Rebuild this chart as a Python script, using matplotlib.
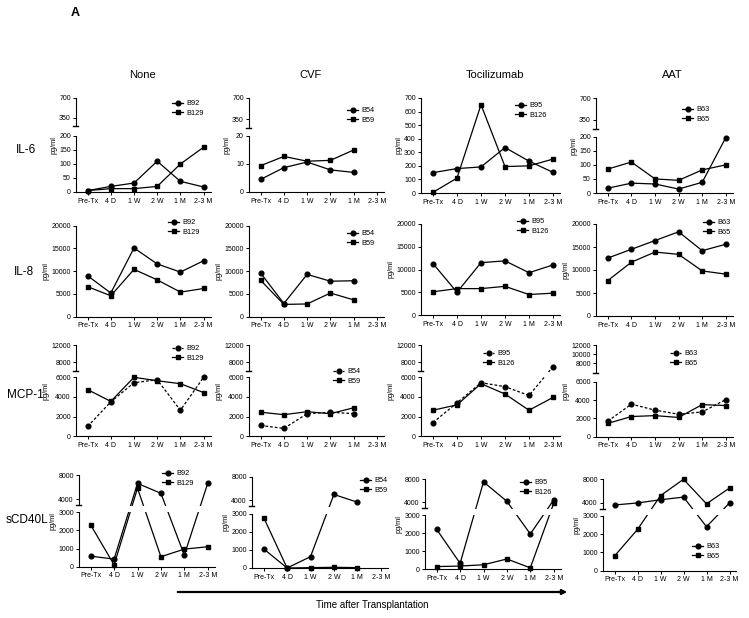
import numpy as np
import matplotlib
matplotlib.use('Agg')
import matplotlib.pyplot as plt
from matplotlib.patches import Rectangle, FancyArrowPatch
from matplotlib.lines import Line2D

plt.rcParams['font.family'] = ['Liberation Sans', 'DejaVu Sans']

nan = np.nan
# ---------------- data ----------------
timepoints = ['Pre-Tx', '4 D', '1 W', '2 W', '1 M', '2-3 M']
treatments = ['None', 'CVF', 'Tocilizumab', 'AAT']
cytokines = ['IL-6', 'IL-8', 'MCP-1', 'sCD40L']
donor_circle = ['B92', 'B54', 'B95', 'B63']
donor_square = ['B129', 'B59', 'B126', 'B65']

il6_none_b92 = [5, 20, 32, 110, 38, 18]
il6_none_b129 = [5, 12, 12, 20, 100, 160]
il6_cvf_b54 = [4.5, 8.7, 10.7, 7.9, 7.0, nan]
il6_cvf_b59 = [9.4, 12.7, 11.0, 11.3, 15.0, nan]
il6_toci_b95 = [150, 180, 192, 335, 235, 152]
il6_toci_b126 = [5, 110, 650, 195, 200, 250]
il6_aat_b63 = [17, 35, 32, 14, 38, 197]
il6_aat_b65 = [85, 110, 50, 45, 82, 100]

il8_none_b92 = [9000, 5200, 15100, 11600, 9800, 12300]
il8_none_b129 = [6600, 4600, 10400, 8100, 5400, 6200]
il8_cvf_b54 = [9600, 2900, 9300, 7800, 7900, nan]
il8_cvf_b59 = [8000, 2700, 2800, 5200, 3700, nan]
il8_toci_b95 = [11300, 5000, 11500, 11900, 9300, 11000]
il8_toci_b126 = [5100, 5800, 5800, 6300, 4500, 4800]
il8_aat_b63 = [12600, 14500, 16400, 18300, 14200, 15600]
il8_aat_b65 = [7700, 11700, 13900, 13400, 9800, 9100]

mcp1_none_b92 = [1000, 3500, 5450, 5750, 2650, 6000]
mcp1_none_b129 = [4750, 3550, 6000, 5650, 5350, 4450]
mcp1_cvf_b54 = [1100, 800, 2300, 2450, 2300, nan]
mcp1_cvf_b59 = [2450, 2200, 2500, 2300, 2900, nan]
mcp1_toci_b95 = [1400, 3400, 5450, 5050, 4150, 7000]
mcp1_toci_b126 = [2650, 3200, 5350, 4300, 2650, 3950]
mcp1_aat_b63 = [1700, 3550, 2900, 2450, 2700, 4050]
mcp1_aat_b65 = [1450, 2200, 2300, 2100, 3500, 3400]

scd40l_none_b92 = [580, 420, 6600, 4950, 640, 6600]
scd40l_none_b129 = [2300, 100, 5800, 550, 970, 1100]
scd40l_cvf_b54 = [1060, 0, 630, 4970, 3650, nan]
scd40l_cvf_b59 = [2800, 0, 20, 40, 20, nan]
scd40l_toci_b95 = [2200, 330, 7500, 4150, 1950, 4400]
scd40l_toci_b126 = [150, 180, 250, 570, 80, 3800]
scd40l_aat_b63 = [3600, 3950, 4500, 4950, 2400, 3950]
scd40l_aat_b65 = [800, 2250, 5200, 8000, 3800, 6500]

series = {
    'IL-6': [(il6_none_b92, il6_none_b129), (il6_cvf_b54, il6_cvf_b59),
             (il6_toci_b95, il6_toci_b126), (il6_aat_b63, il6_aat_b65)],
    'IL-8': [(il8_none_b92, il8_none_b129), (il8_cvf_b54, il8_cvf_b59),
             (il8_toci_b95, il8_toci_b126), (il8_aat_b63, il8_aat_b65)],
    'MCP-1': [(mcp1_none_b92, mcp1_none_b129), (mcp1_cvf_b54, mcp1_cvf_b59),
              (mcp1_toci_b95, mcp1_toci_b126), (mcp1_aat_b63, mcp1_aat_b65)],
    'sCD40L': [(scd40l_none_b92, scd40l_none_b129), (scd40l_cvf_b54, scd40l_cvf_b59),
               (scd40l_toci_b95, scd40l_toci_b126), (scd40l_aat_b63, scd40l_aat_b65)],
}

# ---------------- layout (pixels) ----------------
W, H = 749, 618
fig = plt.figure(figsize=(W / 100, H / 100), dpi=100)

# y "knots": (value, pixel-y) pairs defining (broken) axes
knots = {
    'IL-6': [[(0, 192), (200, 136), (200, 126), (700, 98)],
             [(0, 192), (20, 136), (200, 128), (700, 98)],
             [(0, 193), (700, 98)],
             [(0, 193), (200, 136.7), (200, 129), (700, 98.3)]],
    'IL-8': [[(0, 316.7), (20000, 225.7)], [(0, 316.7), (20000, 225.7)],
             [(0, 315), (20000, 224)], [(0, 316), (20000, 224)]],
    'MCP-1': [[(0, 436.3), (6000, 377.3), (6000, 371), (12000, 345)]] * 3 +
             [[(0, 436.7), (6000, 381.7), (6000, 372.5), (12000, 345)]],
    'sCD40L': [[(0, 566.7), (3000, 512.3), (3000, 505), (8000, 475)],
               [(0, 568), (3000, 514), (3000, 506), (8000, 476.7)],
               [(0, 569.3), (3000, 515), (3000, 508), (8000, 479)],
               [(0, 570.7), (3000, 515.7), (3000, 508.5), (8000, 479.3)]],
}
yticks = {
    'IL-6': [[0, 50, 100, 150, 200, 350, 700], [0, 10, 20, 350, 700],
             [0, 100, 200, 300, 400, 500, 600, 700], [0, 50, 100, 150, 200, 350, 700]],
    'IL-8': [[0, 5000, 10000, 15000, 20000]] * 4,
    'MCP-1': [[0, 2000, 4000, 6000, 8000, 12000]] * 3 + [[0, 2000, 4000, 6000, 8000, 10000, 12000]],
    'sCD40L': [[0, 1000, 2000, 3000, 4000, 8000]] * 4,
}
xlayout = {r: [(76, 23.2), (249, 23.25), (421, 24), (596, 23.6)] for r in ['IL-6', 'IL-8', 'MCP-1']}
xlayout['sCD40L'] = [(79, 23.4), (252, 23.4), (425, 23.4), (603, 23.0)]

legend_pos = {
    'IL-6': [(172, 103), (347, 110), (515, 105), (682, 109)],
    'IL-8': [(168, 222), (347, 233), (517, 221), (703, 222)],
    'MCP-1': [(172, 348), (333, 371), (483, 353), (670, 353)],
    'sCD40L': [(162, 473), (360, 480), (520, 482), (692, 546)],
}
row_label_pos = {'IL-6': (16, 150), 'IL-8': (14, 272), 'MCP-1': (7, 395), 'sCD40L': (6, 520)}
col_title_pos = [(143, 75), (310, 75), (495, 75), (672, 75)]

XMIN, XMAX = -0.5, 5.3
LW = 0.9
TICKFS = 5.0


def interp_ext(x, xp, fp):
    x = np.asarray(x, float)
    y = np.interp(x, xp, fp)
    lo_s = (fp[1] - fp[0]) / (xp[1] - xp[0])
    hi_s = (fp[-1] - fp[-2]) / (xp[-1] - xp[-2])
    y = np.where(x < xp[0], fp[0] + (x - xp[0]) * lo_s, y)
    y = np.where(x > xp[-1], fp[-1] + (x - xp[-1]) * hi_s, y)
    return y


def fig_xy(x, y):
    return x / W, 1 - y / H


for ri, cyt in enumerate(cytokines):
    for ci, trt in enumerate(treatments):
        kn = knots[cyt][ci]
        vals = [k[0] for k in kn]
        pys = [k[1] for k in kn]
        for i in range(1, len(vals)):
            if vals[i] <= vals[i - 1]:
                vals[i] = vals[i - 1] * (1 + 1e-6) + 1e-9
        y0, ytop = pys[0], pys[-1]
        hs = [y0 - p for p in pys]
        Ht = y0 - ytop
        left, sp = xlayout[cyt][ci]
        width = (XMAX - XMIN) * sp
        ax = fig.add_axes([left / W, 1 - y0 / H, width / W, Ht / H])
        ax.set_facecolor('none')
        fwd = (lambda v, vals=vals, hs=hs: interp_ext(v, vals, hs))
        inv = (lambda h, vals=vals, hs=hs: interp_ext(h, hs, vals))
        ax.set_yscale('function', functions=(fwd, inv))
        ax.set_xlim(XMIN, XMAX)
        ax.set_ylim(0, vals[-1])

        xs = np.arange(len(timepoints))
        circ, sq = series[cyt][ci]
        ls_c = (0, (2.2, 1.6)) if cyt == 'MCP-1' else '-'
        # lines
        ax.plot(xs, circ, color='k', lw=LW, ls=ls_c, zorder=2, clip_on=False)
        ax.plot(xs, sq, color='k', lw=LW, ls='-', zorder=2, clip_on=False)
        # markers on top
        ax.plot(xs, circ, 'o', color='k', ms=3.4, zorder=2.4, clip_on=False)
        ax.plot(xs, sq, 's', color='k', ms=3.2, zorder=2.4, clip_on=False)

        # spines
        for s in ['top', 'right', 'left']:
            ax.spines[s].set_visible(False)
        ax.spines['bottom'].set_linewidth(0.8)
        broken = len(kn) == 4
        if broken:
            hb, hg = hs[1], hs[2]
            ax.add_patch(Rectangle((0, (hb + 0.5) / Ht), 1, (hg - hb - 1.0) / Ht,
                                   transform=ax.transAxes, facecolor='white',
                                   edgecolor='none', zorder=2.2))
            ax.plot([0, 0], [0, hb / Ht], color='k', lw=0.8, transform=ax.transAxes,
                    clip_on=False, zorder=3)
            ax.plot([0, 0], [hg / Ht, 1], color='k', lw=0.8, transform=ax.transAxes,
                    clip_on=False, zorder=3)
            ax.plot([-3.0 / width, 2.0 / width], [hg / Ht, hg / Ht], color='k', lw=1.0,
                    transform=ax.transAxes, clip_on=False, zorder=3)
        else:
            ax.plot([0, 0], [0, 1], color='k', lw=0.8, transform=ax.transAxes,
                    clip_on=False, zorder=3)

        yt = yticks[cyt][ci]
        ax.set_yticks(yt)
        ax.set_yticklabels([str(v) for v in yt])
        ax.set_xticks(xs)
        ax.set_xticklabels(timepoints)
        ax.tick_params(axis='both', direction='out', length=2.5, width=0.7,
                       labelsize=TICKFS, pad=1.2, colors='k')
        ax.tick_params(axis='x', pad=1.5)
        ax.minorticks_off()

        ax.set_ylabel('pg/ml', fontsize=5.3, labelpad=1.0)

        # legend
        hx, hy = legend_pos[cyt][ci]
        handles = [Line2D([], [], color='k', lw=LW, ls=ls_c, marker='o', ms=3.4),
                   Line2D([], [], color='k', lw=LW, ls='-', marker='s', ms=3.2)]
        ax.legend(handles, [donor_circle[ci], donor_square[ci]], loc='center left',
                  bbox_to_anchor=fig_xy(hx, hy + 5.5), bbox_transform=fig.transFigure,
                  frameon=False, fontsize=5.3, borderpad=0, borderaxespad=0,
                  handlelength=1.5, handletextpad=0.5, labelspacing=0.35, numpoints=1)

# titles / labels
for ci, trt in enumerate(treatments):
    fig.text(*fig_xy(*col_title_pos[ci]), trt, ha='center', va='center', fontsize=8)
for cyt in cytokines:
    fig.text(*fig_xy(*row_label_pos[cyt]), cyt, ha='left', va='center', fontsize=8.5)

fig.text(*fig_xy(75, 13), 'A', ha='center', va='center', fontsize=9, fontweight='bold')

arrow = FancyArrowPatch(fig_xy(175, 592), fig_xy(570, 592), transform=fig.transFigure,
                        arrowstyle='-|>', mutation_scale=7, lw=1.6, color='k')
fig.add_artist(arrow)
fig.text(*fig_xy(372, 605), 'Time after Transplantation', ha='center', va='center', fontsize=7)

fig.savefig('out.png', dpi=100)
